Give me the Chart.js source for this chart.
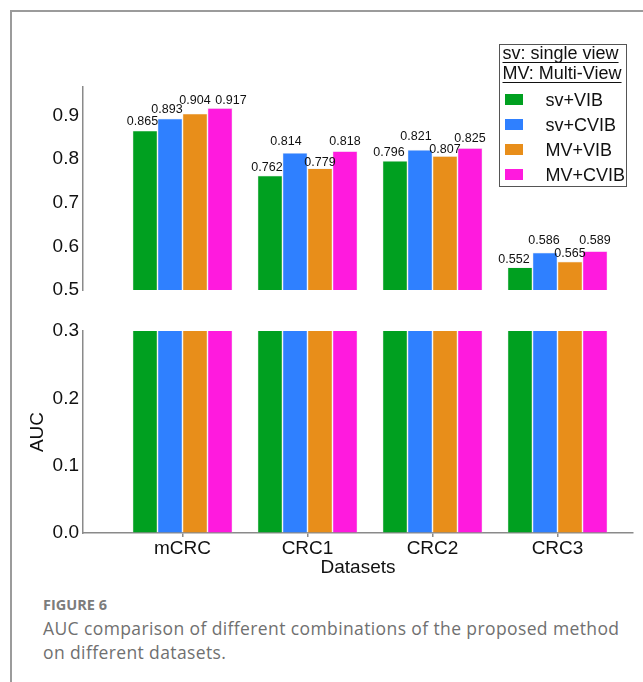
<!DOCTYPE html>
<html>
<head>
<meta charset="utf-8">
<title>AUC comparison</title>
<script src="https://cdn.jsdelivr.net/npm/chart.js@4.4.0/dist/chart.umd.min.js"></script>
<style>
  html, body { margin: 0; padding: 0; background: #fff; }
  body { width: 643px; height: 682px; position: relative; overflow: hidden;
         font-family: "Liberation Sans", Arial, sans-serif; color: #111; }
  .frame { position: absolute; left: 10px; top: 10px; width: 700px; height: 700px;
           border-left: 2px solid #9b9b9b; border-top: 2px solid #9b9b9b; }
  canvas { position: absolute; left: 0; }
  #topPanel { top: 50px; }
  #bottomPanel { top: 310px; }
  .legend { position: absolute; left: 499px; top: 44px; width: 128px; height: 143px;
            box-sizing: border-box; border: 1.5px solid #555; background: #fff; }
  .legend div { position: absolute; font-size: 18px; line-height: 20px; white-space: nowrap; }
  .legend .head { text-decoration: underline; text-decoration-thickness: 1.3px; text-underline-offset: 3px; }
  .legend .swatch { width: 18px; height: 11px; }
  .fig { position: absolute; left: 43px; white-space: nowrap; font-family: "Open Sans", sans-serif; }
  .fig.label { top: 596.4px; font-size: 14.5px; line-height: 18px; font-weight: 700; color: #7c7c7c; }
  .fig.cap { font-size: 17.5px; line-height: 24px; letter-spacing: 0.39px; color: #707070; }
</style>
</head>
<body>
<div class="frame"></div>
<canvas id="topPanel" width="643" height="260"></canvas>
<canvas id="bottomPanel" width="643" height="280"></canvas>
<div class="legend" id="legend"></div>
<div class="fig label">FIGURE 6</div>
<div class="fig cap" style="top:616px">AUC comparison of different combinations of the proposed method</div>
<div class="fig cap" style="top:640px">on different datasets.</div>

<script>
// Datasets on the x axis
const categories = ['mCRC', 'CRC1', 'CRC2', 'CRC3'];

// AUC per method, one value per dataset
const svVIB   = [0.865, 0.762, 0.796, 0.552];
const svCVIB  = [0.893, 0.814, 0.821, 0.586];
const mvVIB   = [0.904, 0.779, 0.807, 0.565];
const mvCVIB  = [0.917, 0.818, 0.825, 0.589];

const seriesNames  = ['sv+VIB', 'sv+CVIB', 'MV+VIB', 'MV+CVIB'];
const seriesValues = [svVIB, svCVIB, mvVIB, mvCVIB];
const seriesColors = ['#00a020', '#2f80ff', '#e88e1a', '#ff1ade'];

// Tick values for the two halves of the broken y axis
const upperTicks = [0.5, 0.6, 0.7, 0.8, 0.9];
const lowerTicks = [0.0, 0.1, 0.2, 0.3];

// Small pixel nudges [dx, rise] so neighbouring value labels do not collide
const labelNudge = [
  [[-2.5, 9], [-3, 8], [-6, 8.3], [-6, 8]],
  [[-3, 9], [-9, 11], [-4, 13], [-1, 12.4]],
  [[0, 13], [0, 6], [0, 6], [0, 8.3]],
  [[11, 7.3], [0, 10], [0, 10], [0, 11]]
];

const FONT = '"Liberation Sans", Arial, sans-serif';
const AXIS_GREY = '#8a8a8a';
const X_MIN = -0.796, X_MAX = 3.604;

function makeDatasets() {
  return seriesNames.map((name, s) => ({
    label: name,
    data: seriesValues[s].map((v, i) => ({ x: i, y: v })),
    backgroundColor: seriesColors[s],
    borderColor: 'rgba(235,235,235,0.9)',
    borderWidth: 0.7,
    clip: 0
  }));
}

function xScale(visible) {
  return {
    type: 'linear',
    display: visible,
    min: X_MIN, max: X_MAX,
    offset: false,
    afterBuildTicks: s => { s.ticks = categories.map((_, i) => ({ value: i })); },
    afterFit: s => { s.height = visible ? 46 : 0; },
    grid: { offset: false, drawOnChartArea: false, drawTicks: true, tickLength: 4,
            color: AXIS_GREY, lineWidth: 1.5 },
    border: { display: true, color: AXIS_GREY, width: 1.5 },
    ticks: { autoSkip: false, maxRotation: 0, padding: 0, color: '#111',
             font: { family: FONT, size: 19 },
             callback: v => categories[v] },
    title: { display: visible, text: 'Datasets', color: '#111', padding: 0,
             font: { family: FONT, size: 19 } }
  };
}

function yScale(min, max, tickList, title) {
  return {
    min, max,
    beginAtZero: false,
    afterBuildTicks: s => { s.ticks = tickList.map(v => ({ value: v })); },
    afterFit: s => { s.width = 83; },
    grid: { display: true, drawOnChartArea: false, drawTicks: false },
    border: { display: true, color: AXIS_GREY, width: 1.5 },
    ticks: { padding: 4, color: '#111', font: { family: FONT, size: 19 },
             callback: v => Number(v).toFixed(1) },
    title: title ? { display: true, text: title, color: '#111',
                     padding: { top: 26, bottom: 0 }, font: { family: FONT, size: 19 } }
                 : { display: false }
  };
}

// Prints each bar's AUC above it in the upper panel
const valueLabels = {
  id: 'valueLabels',
  afterDatasetsDraw(chart) {
    const ctx = chart.ctx;
    ctx.save();
    ctx.font = '12.5px ' + FONT;
    ctx.fillStyle = '#111';
    ctx.textAlign = 'center';
    ctx.textBaseline = 'middle';
    chart.data.datasets.forEach((ds, s) => {
      chart.getDatasetMeta(s).data.forEach((bar, i) => {
        const [dx, rise] = labelNudge[s][i];
        ctx.fillText(seriesValues[s][i].toFixed(3), bar.x + dx, bar.y - rise);
      });
    });
    ctx.restore();
  }
};

const common = {
  responsive: false,
  animation: false,
  events: [],
  plugins: { legend: { display: false }, tooltip: { enabled: false } },
  datasets: { bar: { categoryPercentage: 0.8, barPercentage: 1.0, grouped: true } }
};

// Upper panel: 0.5 and above
new Chart(document.getElementById('topPanel'), {
  type: 'bar',
  data: { datasets: makeDatasets() },
  options: Object.assign({}, common, {
    layout: { padding: { top: 37, bottom: 20, left: 0, right: 10 } },
    scales: { x: xScale(false), y: yScale(0.5, 0.965, upperTicks, null) }
  }),
  plugins: [valueLabels]
});

// Lower panel: 0 to 0.3, bars continue past the break
new Chart(document.getElementById('bottomPanel'), {
  type: 'bar',
  data: { datasets: makeDatasets() },
  options: Object.assign({}, common, {
    layout: { padding: { top: 21, bottom: 11, left: 0, right: 10 } },
    scales: { x: xScale(true), y: yScale(0, 0.3, lowerTicks, 'AUC') }
  })
});

// Legend: the two abbreviation notes, then one swatch per series
const legend = document.getElementById('legend');
const ox = 500.5, oy = 45.5;   // inner corner of the legend box
function put(el, left, baseline) {
  el.style.left = (left - ox) + 'px';
  el.style.top = (baseline - 16.25 - oy) + 'px';
  legend.appendChild(el);
}
[['sv: single view', 60], ['MV: Multi-View', 80]].forEach(([t, b]) => {
  const d = document.createElement('div');
  d.className = 'head';
  d.textContent = t;
  put(d, 503, b);
});
const baselines = [106.7, 131.5, 156.3, 181.5];
seriesNames.forEach((name, s) => {
  const sw = document.createElement('div');
  sw.className = 'swatch';
  sw.style.background = seriesColors[s];
  sw.style.left = (505 - ox) + 'px';
  sw.style.top = (baselines[s] - 12 - oy) + 'px';
  legend.appendChild(sw);
  const t = document.createElement('div');
  t.textContent = name;
  put(t, 546, baselines[s]);
});
</script>
</body>
</html>
